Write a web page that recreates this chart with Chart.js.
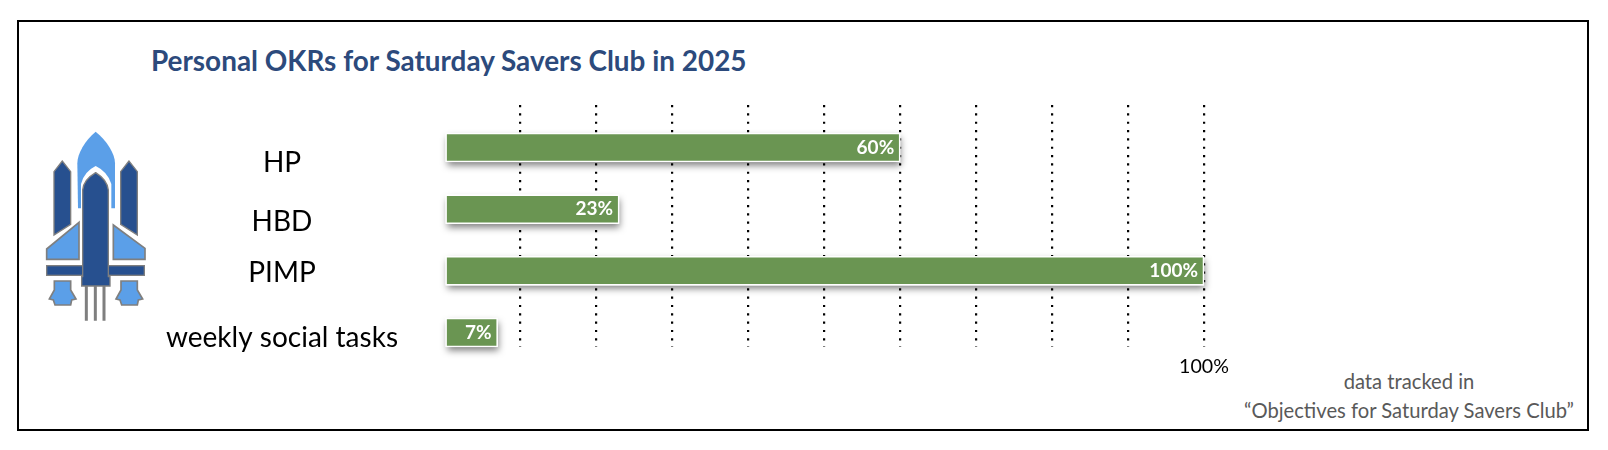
<!DOCTYPE html>
<html>
<head>
<meta charset="utf-8">
<title>Personal OKRs</title>
<script src="https://cdn.jsdelivr.net/npm/chart.js@4"></script>
<style>
  body { margin: 0; background: #fff; width: 1608px; height: 450px; overflow: hidden; font-family: Lato, sans-serif; }
  #frame { position: absolute; left: 17px; top: 20px; width: 1568px; height: 407px; border: 2px solid #000; }
  #chart { position: absolute; left: 0; top: 0; }
  #rocket { position: absolute; left: 0; top: 100px; }
  h1 { position: absolute; left: 151px; top: 42px; margin: 0; font-size: 27.9px; line-height: 36px; font-weight: 700; color: #2c4a7c; white-space: nowrap; }
  #note { position: absolute; left: 1209px; width: 400px; top: 367px; text-align: center; font-size: 20.2px; line-height: 29px; color: #595959; white-space: nowrap; }
</style>
</head>
<body>
<div id="frame"></div>
<svg id="rocket" width="300" height="240" viewBox="0 0 900 720">
  <path d="M287 95C255 122 232 160 232 190L234 325H345V190C345 160 320 122 287 95Z" fill="#5b9fe8"/>
  <path d="M243 330V252Q252 215 287 198Q323 215 334 252V330Z" fill="#fff"/>
  <g fill="#27508f" stroke="#7f7f7f" stroke-width="4">
    <path d="M187 183L162 215V405L212 373V215Z"/>
    <path d="M387 183L362 215V373L412 405V215Z"/>
  </g>
  <g fill="#5b9fe8" stroke="#7f7f7f" stroke-width="5">
    <path d="M237 367L140 447V478H237Z"/>
    <path d="M340 375L435 445V478H340Z"/>
    <path d="M163 543H212V570L228 597L215 600L212 615H165L160 600L148 597L163 570Z"/>
    <path d="M363 543H412V570L428 597L415 600L412 615H365L360 600L348 597L363 570Z"/>
  </g>
  <g stroke="#7f7f7f" stroke-width="9">
    <path d="M259 555V662M286 555V662M312 555V662"/>
  </g>
  <g fill="#27508f" stroke="#7f7f7f" stroke-width="4">
    <rect x="140" y="497" width="293" height="29"/>
    <path d="M287 218Q250 240 248 270V530H245V558H330V530H325V270Q322 240 287 218Z"/>
  </g>
</svg>
<h1>Personal OKRs for Saturday Savers Club in 2025</h1>
<div id="note">data tracked in<br>“Objectives for Saturday Savers Club”</div>
<canvas id="chart" width="1608" height="450"></canvas>
<script>
const categories = ['HP', 'HBD', 'PIMP', 'weekly social tasks'];
const progress = [60, 23, 100, 7];
const tickSteps = 10;

// the category labels in the picture sit a bit below their bars
const labelNudge = [0.25, 0.21, 0.04, 0.09];

const FONT = 'Lato, sans-serif';

const barShadow = {
  id: 'barShadow',
  beforeDatasetsDraw(chart) {
    const ctx = chart.ctx;
    ctx.save();
    ctx.shadowColor = 'rgba(0,0,0,0.5)';
    ctx.shadowBlur = 7;
    ctx.shadowOffsetX = 1;
    ctx.shadowOffsetY = 4;
    ctx.fillStyle = '#fff';
    chart.getDatasetMeta(0).data.forEach(bar => {
      const p = bar.getProps(['x', 'y', 'base', 'height'], true);
      ctx.fillRect(p.base, p.y - p.height / 2, p.x - p.base, p.height);
    });
    ctx.restore();
  }
};

const barLabels = {
  id: 'barLabels',
  afterDatasetsDraw(chart) {
    const ctx = chart.ctx;
    ctx.save();
    ctx.font = '700 19px ' + FONT;
    ctx.fillStyle = '#fff';
    ctx.textAlign = 'right';
    ctx.textBaseline = 'middle';
    chart.getDatasetMeta(0).data.forEach((bar, i) => {
      ctx.fillText(progress[i] + '%', bar.x - 6, bar.y);
    });
    ctx.restore();
  }
};

new Chart(document.getElementById('chart'), {
  type: 'bar',
  data: {
    datasets: [{
      data: progress.map((v, i) => ({ x: v, y: i })),
      backgroundColor: '#6a9552',
      borderColor: '#fff',
      borderWidth: 1.6,
      borderSkipped: false,
      barThickness: 29,
      clip: false
    }]
  },
  plugins: [barShadow, barLabels],
  options: {
    indexAxis: 'y',
    responsive: false,
    animation: false,
    layout: { padding: { left: 120, right: 404, top: 105, bottom: 0 } },
    plugins: { legend: { display: false }, tooltip: { enabled: false } },
    scales: {
      x: {
        min: 0,
        max: 100,
        afterFit(scale) { scale.height = 103; },
        border: { display: false, dash: [2.2, 6.13] },
        grid: {
          drawTicks: false,
          color: c => (c.tick.value === 0 ? 'rgba(0,0,0,0)' : '#000'),
          lineWidth: 2.2
        },
        ticks: {
          stepSize: tickSteps,
          padding: 8,
          maxRotation: 0,
          color: '#000',
          font: { family: FONT, size: 19.6 },
          callback: v => (v === 100 ? '100%' : '')
        }
      },
      y: {
        type: 'linear',
        offset: false,
        reverse: true,
        min: -0.689,
        max: 3.235,
        afterBuildTicks(scale) {
          scale.ticks = categories.map((c, i) => ({ value: i + labelNudge[i] }));
        },
        afterFit(scale) { scale.width = 324.5; },
        border: { display: false },
        grid: { display: false },
        ticks: {
          crossAlign: 'center',
          autoSkip: false,
          padding: 38.5,
          color: '#000',
          font: { family: FONT, size: 28 },
          callback: (v, i) => categories[i]
        }
      }
    }
  }
});
</script>
</body>
</html>
